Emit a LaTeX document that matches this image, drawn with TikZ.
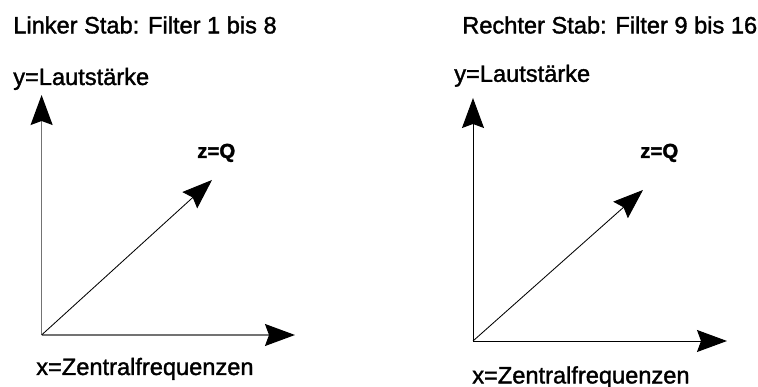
\documentclass[tikz,border=0pt]{standalone}
\usepackage{fontspec}
\setmainfont{Liberation Sans}[FakeBold=1.5]
\usetikzlibrary{arrows.meta}
\begin{document}
\begin{tikzpicture}[every node/.style={inner sep=0pt, anchor=base west},
  head/.style={-{Stealth[length=.75cm, width=.55cm, inset=.1cm, black]}},
  axisL/.style={head, draw=black!55, line width=1pt},
  axisR/.style={head, draw=black, line width=.7pt},
  zaxis/.style={head, draw=black, line width=.6pt},
  big/.style={font=\fontsize{16.8}{20}\selectfont},
  small/.style={font=\bfseries\fontsize{14.5}{17}\selectfont}]
  \useasboundingbox (0,0) rectangle (18.95,9.675);
  % linker Stab
  \coordinate (OL) at (1.04,1.30);
  \coordinate (XL) at (7.375,1.30);
  \coordinate (YL) at (1.04,7.30);
  \coordinate (ZL) at (5.30,5.175);
  \draw[axisL] (OL)--(YL);
  \draw[axisL] (OL)--(XL);
  \draw[zaxis] (OL)--(ZL);
  \node[big] (titleL) at (0.325,8.84) {Linker Stab: Filter 1 bis 8};
  \node[big] (yL) at (0.325,7.55) {y=Lautstärke};
  \node[small] (zL) at (4.925,5.725) {z=Q};
  \node[big] (xL) at (0.9,0.30) {x=Zentralfrequenzen};
  % rechter Stab
  \coordinate (OR) at (11.825,1.15);
  \coordinate (XR) at (18.175,1.15);
  \coordinate (YR) at (11.825,7.225);
  \coordinate (ZR) at (16.075,4.925);
  \draw[axisR] (OR)--(YR);
  \draw[axisR] (OR)--(XR);
  \draw[zaxis] (OR)--(ZR);
  \node[big] (titleR) at (11.55,8.84) {Rechter Stab: Filter 9 bis 16};
  \node[big] (yR) at (11.35,7.63) {y=Lautstärke};
  \node[small] (zR) at (16.0,5.725) {z=Q};
  \node[big] (xR) at (11.8,0.09) {x=Zentralfrequenzen};
\end{tikzpicture}
\end{document}
